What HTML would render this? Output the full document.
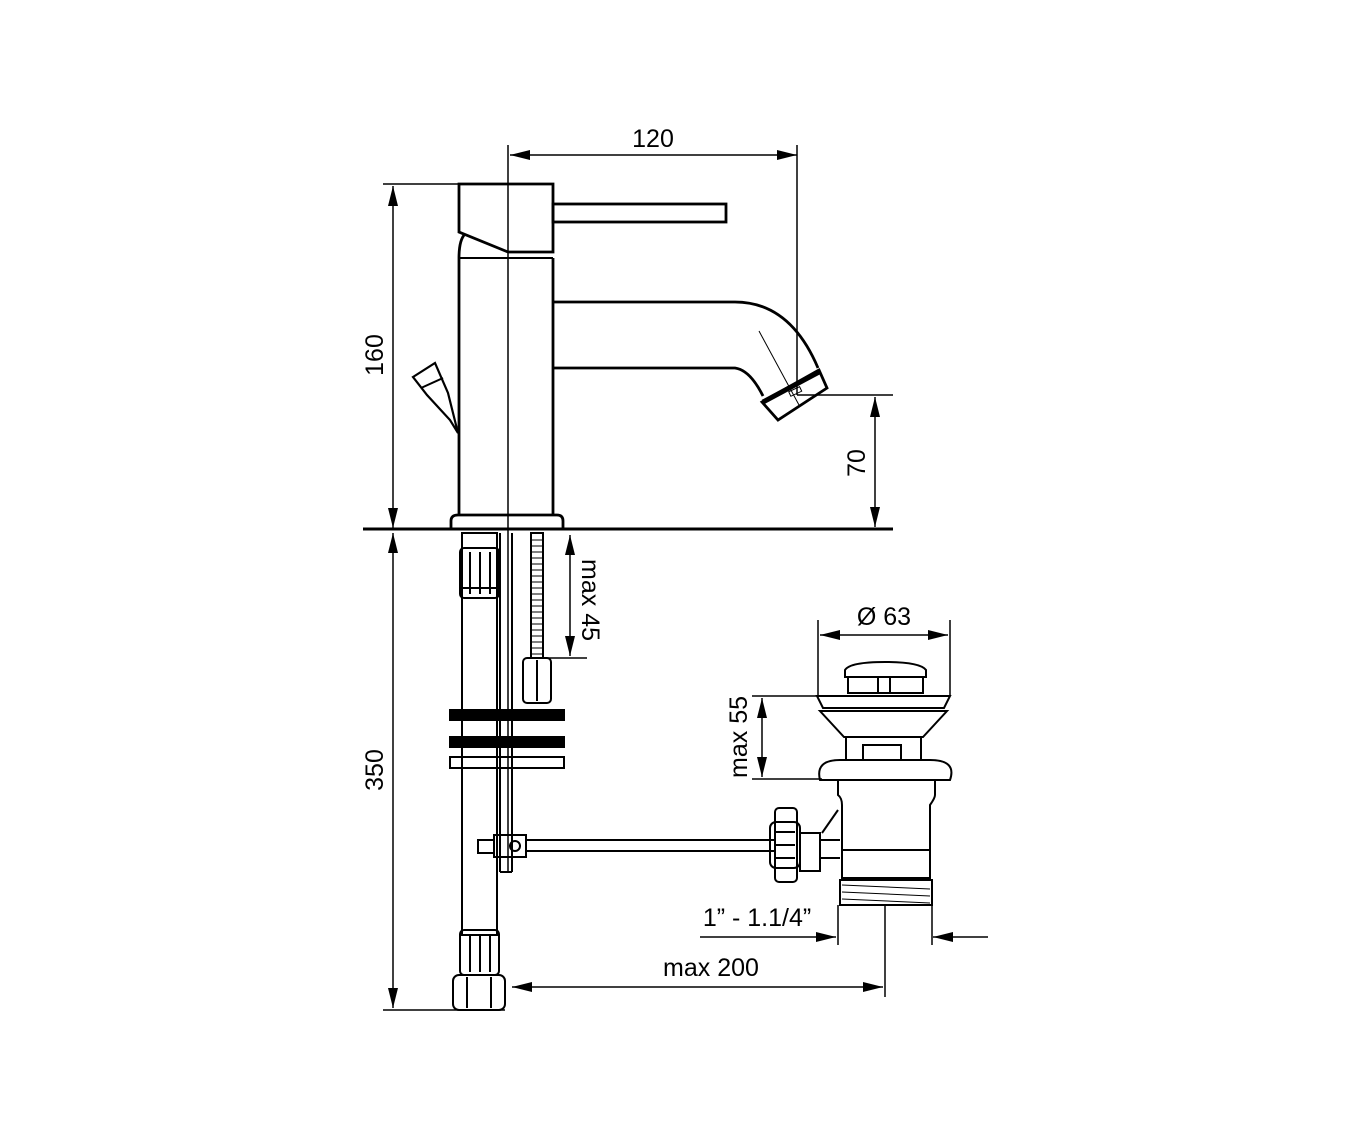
<!DOCTYPE html>
<html><head><style>html,body{margin:0;padding:0;background:#fff}svg{display:block}text{font-family:"Liberation Sans",Arial,sans-serif;font-size:25px;fill:#000}</style></head>
<body>
<svg width="1346" height="1134" viewBox="0 0 1346 1134" xmlns="http://www.w3.org/2000/svg">
<defs>
<marker id="a" viewBox="0 0 20 10" refX="20" refY="5" markerWidth="20" markerHeight="10" markerUnits="userSpaceOnUse" orient="auto-start-reverse"><path d="M0,0 L20,5 L0,10 z" fill="#000"/></marker>
</defs>
<g fill="none" stroke="#000" stroke-width="1.5">
<line x1="510" y1="155" x2="797" y2="155" marker-start="url(#a)" marker-end="url(#a)"/>
<line x1="797" y1="145" x2="797" y2="395"/>
<line x1="508" y1="145" x2="508" y2="872"/>
<line x1="383" y1="184" x2="460" y2="184"/>
<line x1="393" y1="186" x2="393" y2="528" marker-start="url(#a)" marker-end="url(#a)"/>
<line x1="797" y1="395" x2="893" y2="395"/>
<line x1="875" y1="397" x2="875" y2="527" marker-start="url(#a)" marker-end="url(#a)"/>
<line x1="393" y1="533" x2="393" y2="1008" marker-start="url(#a)" marker-end="url(#a)"/>
<line x1="383" y1="1010" x2="505" y2="1010"/>
<line x1="570" y1="535" x2="570" y2="656" marker-start="url(#a)" marker-end="url(#a)"/>
<line x1="545" y1="658" x2="587" y2="658"/>
<line x1="818" y1="620" x2="818" y2="695"/>
<line x1="950" y1="620" x2="950" y2="695"/>
<line x1="820" y1="635" x2="948" y2="635" marker-start="url(#a)" marker-end="url(#a)"/>
<line x1="752" y1="696" x2="822" y2="696"/>
<line x1="752" y1="779" x2="822" y2="779"/>
<line x1="762" y1="698" x2="762" y2="777" marker-start="url(#a)" marker-end="url(#a)"/>
<line x1="700" y1="937" x2="836" y2="937" marker-end="url(#a)"/>
<line x1="988" y1="937" x2="933" y2="937" marker-end="url(#a)"/>
<line x1="838" y1="905" x2="838" y2="945"/>
<line x1="932" y1="905" x2="932" y2="945"/>
<line x1="885" y1="905" x2="885" y2="997"/>
<line x1="512" y1="987" x2="883" y2="987" marker-start="url(#a)" marker-end="url(#a)"/>
</g>
<g fill="none" stroke="#000" stroke-width="2.8">
<line x1="363" y1="529" x2="893" y2="529" stroke-width="3"/>
<path d="M459,184 L553,184 L553,252 L508,252 L459,232 Z"/>
<path d="M459,258 Q459,240 465,234"/>
<line x1="459" y1="258" x2="553" y2="258" stroke-width="2"/>
<rect x="553" y="204" width="173" height="18"/>
<line x1="459" y1="258" x2="459" y2="515"/>
<line x1="553" y1="258" x2="553" y2="515"/>
<path d="M451,529 L451,521 Q451,515 458,515 L557,515 Q563,515 563,521 L563,529"/>
<path d="M553,302 L735,302 Q790,302 818,368"/>
<path d="M553,368 L735,368 Q750,370 763,396"/>
<path d="M762,402 L819,370 L827,388 L778,420 Z"/>
<line x1="763" y1="402" x2="819" y2="372" stroke-width="5"/>
<line x1="759" y1="331" x2="799" y2="405" stroke-width="1"/>
<rect x="789" y="389" width="12" height="5" stroke-width="1" transform="rotate(-25 795 391)"/>
<path d="M413,377 L435,363 L448,393 L458,433 L450,420 L427,395 Z" stroke-width="2.2"/>
<line x1="421" y1="388" x2="443" y2="378" stroke-width="2"/>
</g>
<g fill="none" stroke="#000" stroke-width="2">
<rect x="462" y="533" width="35" height="402"/>
<rect x="460" y="548" width="39" height="50" rx="4"/>
<line x1="470" y1="552" x2="470" y2="594"/><line x1="480" y1="552" x2="480" y2="594"/><line x1="490" y1="552" x2="490" y2="594"/>
<line x1="460" y1="588" x2="499" y2="588"/>
<rect x="460" y="930" width="39" height="45" rx="4"/>
<line x1="470" y1="934" x2="470" y2="972"/><line x1="480" y1="934" x2="480" y2="972"/><line x1="490" y1="934" x2="490" y2="972"/>
<rect x="453" y="975" width="52" height="35" rx="6"/>
<line x1="467" y1="977" x2="467" y2="1008"/><line x1="491" y1="977" x2="491" y2="1008"/>
<line x1="500" y1="533" x2="500" y2="872"/>
<line x1="512" y1="533" x2="512" y2="872"/>
<line x1="500" y1="872" x2="512" y2="872"/>
<rect x="531" y="533" width="12" height="125"/>
<rect x="523" y="658" width="28" height="45" rx="4"/>
<line x1="537" y1="660" x2="537" y2="701"/>
<rect x="450" y="710" width="114" height="10" fill="#000"/>
<rect x="450" y="737" width="114" height="10" fill="#000"/>
<rect x="450" y="757" width="114" height="11"/>
<rect x="494" y="835" width="32" height="22"/>
<circle cx="515" cy="846" r="5"/>
<rect x="478" y="840" width="16" height="13"/>
<line x1="526" y1="840" x2="775" y2="840"/>
<line x1="526" y1="851" x2="775" y2="851"/>
<rect x="775" y="808" width="22" height="74" rx="4"/>
<rect x="770" y="822" width="30" height="46" rx="6"/>
<line x1="775" y1="832" x2="795" y2="832"/><line x1="775" y1="845" x2="795" y2="845"/><line x1="775" y1="858" x2="795" y2="858"/>
<rect x="800" y="833" width="20" height="38"/>
<line x1="820" y1="840" x2="840" y2="840"/><line x1="820" y1="858" x2="840" y2="858"/>
<path d="M822,833 L838,810"/>
<path d="M845,670 Q850,662 885,662 Q920,662 926,670 L926,677 L845,677 Z"/>
<rect x="848" y="677" width="75" height="16"/>
<line x1="878" y1="677" x2="878" y2="693"/><line x1="890" y1="677" x2="890" y2="693"/>
<path d="M817,696 L950,696 L944,708 L823,708 Z"/>
<path d="M820,711 L947,711 L923,737 L844,737 Z"/>
<rect x="846" y="737" width="75" height="23"/>
<rect x="863" y="745" width="38" height="15"/>
<path d="M820,780 Q815,760 840,760 L930,760 Q957,760 950,780 Z"/>
<path d="M838,780 L838,795 Q842,798 842,805 L842,878 L930,878 L930,805 Q935,798 935,795 L935,780"/>
<line x1="842" y1="850" x2="930" y2="850"/>
<rect x="840" y="880" width="92" height="25"/>
<line x1="842" y1="885" x2="930" y2="889" stroke-width="1"/>
<line x1="842" y1="892" x2="930" y2="896" stroke-width="1"/>
<line x1="842" y1="899" x2="930" y2="903" stroke-width="1"/>
</g>
<g stroke="#000" stroke-width="1">
<line x1="531" y1="540" x2="543" y2="540"/><line x1="531" y1="546" x2="543" y2="546"/><line x1="531" y1="552" x2="543" y2="552"/><line x1="531" y1="558" x2="543" y2="558"/><line x1="531" y1="564" x2="543" y2="564"/><line x1="531" y1="570" x2="543" y2="570"/><line x1="531" y1="576" x2="543" y2="576"/><line x1="531" y1="582" x2="543" y2="582"/><line x1="531" y1="588" x2="543" y2="588"/><line x1="531" y1="594" x2="543" y2="594"/><line x1="531" y1="600" x2="543" y2="600"/><line x1="531" y1="606" x2="543" y2="606"/><line x1="531" y1="612" x2="543" y2="612"/><line x1="531" y1="618" x2="543" y2="618"/><line x1="531" y1="624" x2="543" y2="624"/><line x1="531" y1="630" x2="543" y2="630"/><line x1="531" y1="636" x2="543" y2="636"/><line x1="531" y1="642" x2="543" y2="642"/><line x1="531" y1="648" x2="543" y2="648"/><line x1="531" y1="654" x2="543" y2="654"/>
</g>
<text x="653" y="147" text-anchor="middle">120</text>
<text transform="translate(383,355) rotate(-90)" text-anchor="middle">160</text>
<text transform="translate(865,463) rotate(-90)" text-anchor="middle">70</text>
<text transform="translate(383,770) rotate(-90)" text-anchor="middle">350</text>
<text transform="translate(582,600) rotate(90)" text-anchor="middle">max 45</text>
<text transform="translate(747,737) rotate(-90)" text-anchor="middle">max 55</text>
<text x="884" y="625" text-anchor="middle">Ø 63</text>
<text x="757" y="926" text-anchor="middle">1” - 1.1/4”</text>
<text x="711" y="976" text-anchor="middle">max  200</text>
</svg>
</body></html>
